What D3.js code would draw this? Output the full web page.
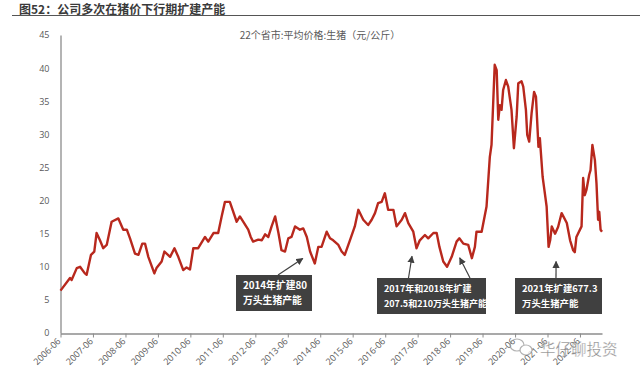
<!DOCTYPE html>
<html><head><meta charset="utf-8">
<script src="https://cdn.jsdelivr.net/npm/d3@7/dist/d3.min.js"></script>
<style>
html,body{margin:0;padding:0;background:#fff;}
svg{display:block;font-family:"Noto Sans CJK SC","Noto Sans",sans-serif;}
</style></head>
<body><svg id="c" width="640" height="376"></svg>
<script>
const title = "图52：公司多次在猪价下行期扩建产能";
const seriesName = "22个省市:平均价格:生猪（元/公斤）";
const dates = ["2006-06-01","2006-09-16","2006-10-04","2006-12-01","2007-01-07","2007-03-02","2007-03-22","2007-05-10","2007-06-16","2007-07-12","2007-08-19","2007-09-25","2007-11-03","2007-12-28","2008-03-13","2008-05-07","2008-06-16","2008-07-22","2008-09-16","2008-10-25","2008-12-07","2009-01-07","2009-02-13","2009-04-22","2009-05-16","2009-07-13","2009-08-13","2009-10-16","2009-12-04","2010-01-16","2010-03-13","2010-04-19","2010-05-28","2010-07-04","2010-08-28","2010-11-13","2010-12-19","2011-02-16","2011-04-10","2011-05-19","2011-06-25","2011-08-19","2011-11-04","2011-12-10","2012-03-13","2012-04-10","2012-05-07","2012-07-04","2012-08-13","2012-09-19","2012-10-25","2012-12-01","2013-01-10","2013-02-16","2013-03-22","2013-05-01","2013-06-07","2013-07-13","2013-08-22","2013-10-16","2013-11-22","2014-01-01","2014-02-07","2014-04-01","2014-05-10","2014-06-16","2014-08-13","2014-09-19","2014-10-25","2014-12-22","2015-01-28","2015-03-04","2015-05-01","2015-06-25","2015-08-04","2015-09-28","2015-11-22","2016-01-01","2016-02-07","2016-03-13","2016-04-22","2016-05-28","2016-07-04","2016-09-01","2016-10-07","2016-12-04","2017-01-10","2017-02-16","2017-04-13","2017-05-19","2017-06-25","2017-08-22","2017-09-28","2017-11-25","2018-01-01","2018-02-01","2018-03-16","2018-04-28","2018-06-19","2018-08-13","2018-09-13","2018-10-28","2018-12-22","2019-02-01","2019-03-07","2019-03-25","2019-05-22","2019-07-16","2019-08-22","2019-09-10","2019-10-16","2019-11-07","2019-11-25","2019-12-13","2020-01-01","2020-01-19","2020-02-19","2020-03-16","2020-04-22","2020-05-19","2020-06-19","2020-07-07","2020-08-13","2020-09-01","2020-10-01","2020-10-16","2020-11-07","2020-12-04","2021-01-01","2021-01-22","2021-02-19","2021-03-07","2021-04-07","2021-04-22","2021-05-22","2021-06-13","2021-07-01","2021-07-19","2021-08-25","2021-09-28","2021-11-07","2022-01-04","2022-02-10","2022-03-16","2022-04-04","2022-04-22","2022-06-19","2022-07-07","2022-07-25","2022-08-13","2022-09-13","2022-09-28","2022-10-19","2022-11-16","2022-12-04","2022-12-22","2023-01-04","2023-01-19","2023-02-04"];
const prices = [6.4,8.3,8.0,9.8,10.0,9.0,8.8,11.8,12.3,15.1,14.0,12.8,13.3,16.8,17.3,15.6,15.6,14.3,12.0,11.8,13.5,13.5,11.5,9.0,9.8,10.8,12.3,11.5,12.8,11.5,9.5,9.9,9.6,12.8,12.8,14.5,13.8,15.1,15.1,17.6,19.8,19.8,16.8,17.6,15.6,14.5,13.8,14.1,14.0,14.9,14.5,16.1,17.6,15.1,12.5,12.3,14.3,14.5,16.1,15.6,15.8,14.5,12.3,10.5,13.0,13.0,15.3,14.3,14.0,13.3,12.3,11.8,14.0,16.1,18.6,17.1,16.3,17.1,18.1,19.6,19.8,21.1,18.6,18.6,16.1,17.1,18.1,16.6,15.3,12.8,14.0,14.8,14.3,15.1,15.1,13.0,10.8,10.0,11.5,13.8,14.3,13.5,13.3,11.3,13.0,15.3,15.3,19.1,26.6,28.4,40.5,39.7,32.2,34.4,33.7,36.7,38.2,37.2,33.7,27.9,32.7,37.7,38.0,37.2,33.7,29.9,28.9,33.2,36.4,35.7,28.1,29.4,23.6,22.1,19.1,13.0,14.0,16.1,15.0,16.0,18.1,16.6,14.0,12.5,12.2,14.5,16.1,23.4,20.8,21.6,23.9,24.6,28.4,26.1,22.6,17.1,18.3,15.6,15.3];
const yTicks = [0,5,10,15,20,25,30,35,40,45];
const xTickLabels = ["2006-06","2007-06","2008-06","2009-06","2010-06","2011-06","2012-06","2013-06","2014-06","2015-06","2016-06","2017-06","2018-06","2019-06","2020-06","2021-06","2022-06"];
const notes = [
  {lines:["2014年扩建80","万头生猪产能"], at:"2014-04-01", v:10.5},
  {lines:["2017年和2018年扩建","207.5和210万头生猪产能"], at:"2017-05-19", v:12.8, at2:"2018-06-19", v2:11.5},
  {lines:["2021年扩建677.3","万头生猪产能"], at:"2021-08-25", v:10.5}
];

const parse = d3.timeParse("%Y-%m-%d"), parseM = d3.timeParse("%Y-%m");
const data = dates.map((d,i)=>({d:parse(d), v:prices[i]}));
const svg = d3.select("#c");

// title
svg.append("text").attr("x",19).attr("y",13.5).attr("font-size",12).attr("font-weight","bold").attr("fill","#3a3a3a").text(title);
svg.append("line").attr("x1",12).attr("x2",640).attr("y1",15.5).attr("y2",15.5).attr("stroke","#555").attr("stroke-width",1.2);
svg.append("text").attr("x",320).attr("y",39).attr("text-anchor","middle").attr("font-size",10).attr("fill","#595959").text(seriesName);

const x = d3.scaleTime().domain([parse("2006-06-01"), parse("2023-02-04")]).range([60.5, 602]);
const y = d3.scaleLinear().domain([0,45]).range([333,35]);

// y axis
const ya = svg.append("g").attr("transform","translate(60.5,0)")
  .call(d3.axisLeft(y).tickValues(yTicks).tickSize(0).tickPadding(11));
ya.select(".domain").attr("stroke","#8c8c8c").attr("stroke-width",1.3);
ya.selectAll("text").attr("font-size",9).attr("fill","#595959").attr("font-family","Open Sans, sans-serif");

// x axis
const xa = svg.append("g").attr("transform","translate(0,333.5)")
  .call(d3.axisBottom(x).tickValues(xTickLabels.map(s=>parseM(s))).tickFormat(d3.timeFormat("%Y-%m")).tickSizeInner(4).tickSizeOuter(0));
xa.select(".domain").attr("stroke","#8c8c8c").attr("stroke-width",1.3);
xa.selectAll("line").attr("stroke","#8c8c8c");
xa.selectAll("text").attr("font-size",9).attr("fill","#595959").attr("font-family","Open Sans, sans-serif")
  .attr("text-anchor","end").attr("transform","translate(-2,6) rotate(-45)").attr("dy","0.35em").attr("y",0).attr("x",0);

// line
svg.append("path").datum(data).attr("fill","none").attr("stroke","#b8281d").attr("stroke-width",2.4)
  .attr("stroke-linejoin","round").attr("d", d3.line().x(d=>x(d.d)).y(d=>y(d.v)));

// annotations
const defs = svg.append("defs");
defs.append("marker").attr("id","ah").attr("viewBox","0 0 10 10").attr("refX",9).attr("refY",5)
  .attr("markerWidth",6).attr("markerHeight",6).attr("orient","auto-start-reverse")
  .append("path").attr("d","M0,0 L10,5 L0,10 z").attr("fill","#404040");

function box(bx,by,bw,bh,lines,fs){
  svg.append("rect").attr("x",bx).attr("y",by).attr("width",bw).attr("height",bh).attr("fill","#404040");
  lines.forEach((t,i)=>svg.append("text").attr("x",bx+7).attr("y",by+14+i*14.5).attr("font-size",fs).attr("font-weight","bold").attr("fill","#fff").text(t));
}
function arrow(x1,y1,x2,y2){
  svg.append("line").attr("x1",x1).attr("y1",y1).attr("x2",x2).attr("y2",y2).attr("stroke","#404040").attr("stroke-width",1.2).attr("marker-end","url(#ah)");
}
const n0=notes[0], n1=notes[1], n2=notes[2];
box(236,275,76,36,n0.lines,9.8);
arrow(278, 275, x(parse(n0.at))-12, y(n0.v)-5);
box(377,278,109,36,n1.lines,9);
arrow(408.5, 278, x(parse(n1.at))-4.5, y(n1.v)+8);
arrow(470, 278, x(parse(n1.at2))+8, y(n1.v2)+1);
box(515,278,87,36,n2.lines,9.4);
arrow(556, 278, x(parse(n2.at))+1, y(n2.v)-2);

// watermark
const wm = svg.append("g").attr("opacity",0.75);
wm.append("ellipse").attr("cx",517).attr("cy",345).attr("rx",7).attr("ry",6).attr("fill","none").attr("stroke","#999").attr("stroke-width",1.2);
wm.append("ellipse").attr("cx",526).attr("cy",350).attr("rx",6).attr("ry",5).attr("fill","#fff").attr("stroke","#999").attr("stroke-width",1.2);
wm.append("text").attr("x",540).attr("y",355).attr("font-size",15.5).attr("fill","#666").attr("stroke","#fff").attr("stroke-width",0.3).text("华仔聊投资");
</script></body></html>
